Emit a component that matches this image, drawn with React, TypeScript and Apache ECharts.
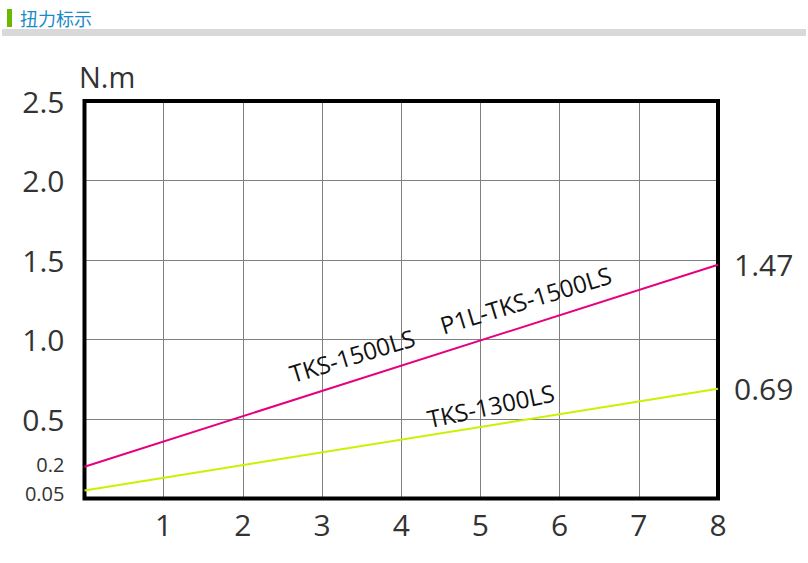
import React, { useEffect, useRef } from "react";
import * as echarts from "echarts";

const xTicks = [0, 1, 2, 3, 4, 5, 6, 7, 8];
const tks1500 = [
  [0, 0.2],
  [8, 1.47],
];
const tks1300 = [
  [0, 0.05],
  [8, 0.69],
];
const startLabels1500 = ["0.2", "1.47"];
const startLabels1300 = ["0.05", "0.69"];
const annotations1500 = [
  { name: "TKS-1500LS", coord: [3.38, 0.9] },
  { name: "P1L-TKS-1500LS", coord: [5.57, 1.25] },
];
const annotations1300 = [{ name: "TKS-1300LS", coord: [5.13, 0.585] }];
const title = "扭力标示";
const unit = "N.m";

const FONT = "'Open Sans', 'Noto Sans', sans-serif";

function buildData(points: number[][], labels: string[], startShift: number) {
  return points.map((p, i) => ({
    value: p,
    label: {
      show: true,
      formatter: labels[i],
      position: i === 0 ? "left" : "right",
      distance: i === 0 ? 20 : 16,
      offset: i === 0 ? [0, startShift] : [0, 0],
      fontSize: i === 0 ? 20 : 30,
      lineHeight: i === 0 ? 18 : 30,
      fontFamily: FONT,
      color: "#333",
    },
  }));
}

function buildMarks(items: { name: string; coord: number[] }[], rot: number) {
  return {
    symbol: "circle",
    symbolSize: 0,
    silent: true,
    label: {
      show: true,
      position: "inside",
      rotate: rot,
      fontSize: 24,
      fontFamily: FONT,
      color: "#111",
      formatter: (p: any) => p.name,
    },
    data: items.map((a) => ({ name: a.name, coord: a.coord })),
  };
}

export default function App() {
  const ref = useRef<HTMLDivElement>(null);
  useEffect(() => {
    if (!ref.current) return;
    const chart = echarts.init(ref.current, null, { renderer: "svg" });
    chart.setOption({
      animation: false,
      backgroundColor: "#fff",
      textStyle: { fontFamily: FONT },
      grid: {
        left: 84.5,
        right: 90,
        top: 101,
        bottom: 64.5,
        show: true,
        borderColor: "#000",
        borderWidth: 4,
        backgroundColor: "transparent",
        z: 3,
      },
      xAxis: {
        type: "value",
        min: xTicks[0],
        max: xTicks[xTicks.length - 1],
        interval: 1,
        axisLine: { show: false },
        axisTick: { show: false },
        splitLine: { show: true, lineStyle: { color: "#808080", width: 1 } },
        axisLabel: {
          margin: 11,
          fontSize: 30,
          fontFamily: FONT,
          color: "#333",
          formatter: (v: number) => (v === 0 ? "" : String(v)),
        },
      },
      yAxis: {
        type: "value",
        min: 0,
        max: 2.5,
        interval: 0.5,
        axisLine: { show: false },
        axisTick: { show: false },
        splitLine: { show: true, lineStyle: { color: "#808080", width: 1 } },
        axisLabel: {
          margin: 20,
          fontSize: 30,
          fontFamily: FONT,
          color: "#333",
          formatter: (v: number) => (v === 0 ? "" : v.toFixed(1)),
        },
      },
      graphic: [
        { type: "rect", shape: { x: 7, y: 9, width: 5, height: 18 }, style: { fill: "#6cb800" } },
        {
          type: "text",
          x: 20,
          y: 18,
          style: {
            text: title,
            fontSize: 18,
            fontFamily: "'Noto Sans CJK SC', sans-serif",
            fill: "#1a8bc9",
            verticalAlign: "middle",
          },
        },
        { type: "rect", shape: { x: 2, y: 29, width: 804, height: 7 }, style: { fill: "#d9d9d9" } },
        {
          type: "text",
          x: 79,
          y: 76,
          style: {
            text: unit,
            fontSize: 29,
            fontFamily: FONT,
            fill: "#333",
            verticalAlign: "middle",
          },
        },
      ],
      series: [
        {
          type: "line",
          data: buildData(tks1500, startLabels1500, -2),
          symbol: "circle",
          symbolSize: 0.1,
          clip: false,
          lineStyle: { color: "#e6007e", width: 2 },
          itemStyle: { color: "#e6007e" },
          markPoint: buildMarks(annotations1500, 17),
          z: 5,
        },
        {
          type: "line",
          data: buildData(tks1300, startLabels1300, 3),
          symbol: "circle",
          symbolSize: 0.1,
          clip: false,
          lineStyle: { color: "#c9f200", width: 2 },
          itemStyle: { color: "#c9f200" },
          markPoint: buildMarks(annotations1300, 12),
          z: 5,
        },
      ],
    });
    return () => chart.dispose();
  }, []);
  return (
    <div
      ref={ref}
      style={{ position: "fixed", left: 0, top: 0, width: 808, height: 563 }}
    />
  );
}
